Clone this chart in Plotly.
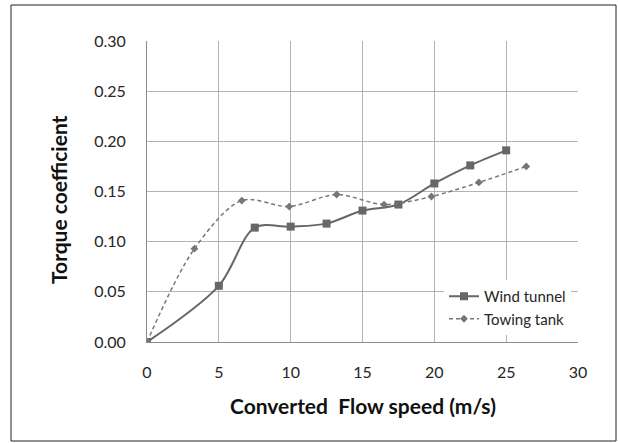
import plotly.graph_objects as go

wind_speed = [0, 5, 7.5, 10, 12.5, 15, 17.5, 20, 22.5, 25]
wind_cq = [0.000, 0.056, 0.114, 0.115, 0.118, 0.131, 0.137, 0.158, 0.176, 0.191]

tow_speed = [0, 3.3, 6.6, 9.9, 13.2, 16.5, 19.8, 23.1, 26.4]
tow_cq = [0.000, 0.093, 0.141, 0.135, 0.147, 0.137, 0.145, 0.159, 0.175]

x_ticks = [0, 5, 10, 15, 20, 25, 30]
y_ticks = [0.00, 0.05, 0.10, 0.15, 0.20, 0.25, 0.30]

W, H = 618, 443
L, R, T, B = 147, 40, 41, 101
pw, ph = W - L - R, H - T - B


def px_to_paper_x(px):
    return (px - L) / pw


def px_to_paper_y(py):
    return (H - B - py) / ph


fig = go.Figure()
fig.add_trace(go.Scatter(
    x=wind_speed, y=wind_cq, name="Wind tunnel", mode="lines+markers",
    line=dict(color="#676767", width=2, shape="spline", smoothing=0.9),
    marker=dict(symbol="square", size=8, color="#676767"),
))
fig.add_trace(go.Scatter(
    x=tow_speed, y=tow_cq, name="Towing tank", mode="lines+markers",
    line=dict(color="#767676", width=1.5, dash="4px,3px", shape="spline", smoothing=0.9),
    marker=dict(symbol="diamond", size=6, color="#767676"),
))

fig.add_shape(type="rect", xref="paper", yref="paper",
              x0=px_to_paper_x(11), x1=px_to_paper_x(616),
              y0=px_to_paper_y(441), y1=px_to_paper_y(5),
              line=dict(color="#222222", width=1), fillcolor="rgba(0,0,0,0)",
              layer="below")

fig.add_annotation(text="<b>Converted  Flow speed (m/s)</b>", xref="paper", yref="paper",
                   x=px_to_paper_x(363), y=px_to_paper_y(405), showarrow=False,
                   xanchor="center", yanchor="middle", font=dict(size=21, color="#111111"))
fig.add_annotation(text="<b>Torque coefficient</b>", xref="paper", yref="paper",
                   x=px_to_paper_x(58), y=px_to_paper_y(200), showarrow=False, textangle=-90,
                   xanchor="center", yanchor="middle", font=dict(size=21, color="#111111"))

fig.update_layout(
    width=W, height=H,
    margin=dict(l=L, r=R, t=T, b=B, autoexpand=False),
    paper_bgcolor="white", plot_bgcolor="white",
    font=dict(family="Lato, 'Open Sans', sans-serif", color="#262626", size=16),
    showlegend=True,
    legend=dict(x=px_to_paper_x(444), y=px_to_paper_y(280), xanchor="left", yanchor="top",
                bgcolor="white", font=dict(size=15, color="#262626"),
                tracegroupgap=4, itemwidth=30),
    xaxis=dict(range=[0, 30], tickvals=x_ticks, ticktext=[str(v) for v in x_ticks],
               showgrid=True, gridcolor="#b3b3b3", gridwidth=1,
               zeroline=False, showline=True, linecolor="#8c8c8c",
               ticks="", tickfont=dict(size=16), ticklabelstandoff=16, automargin=False),
    yaxis=dict(range=[0, 0.30], tickvals=y_ticks, ticktext=[f"{v:.2f}" for v in y_ticks],
               showgrid=True, gridcolor="#b3b3b3", gridwidth=1,
               zeroline=False, showline=True, linecolor="#8c8c8c",
               ticks="", tickfont=dict(size=16), ticklabelstandoff=17, automargin=False),
)

fig.write_html("out.html", config={"displayModeBar": False},
               post_script="document.body.style.margin='0';document.body.style.overflow='hidden';")
